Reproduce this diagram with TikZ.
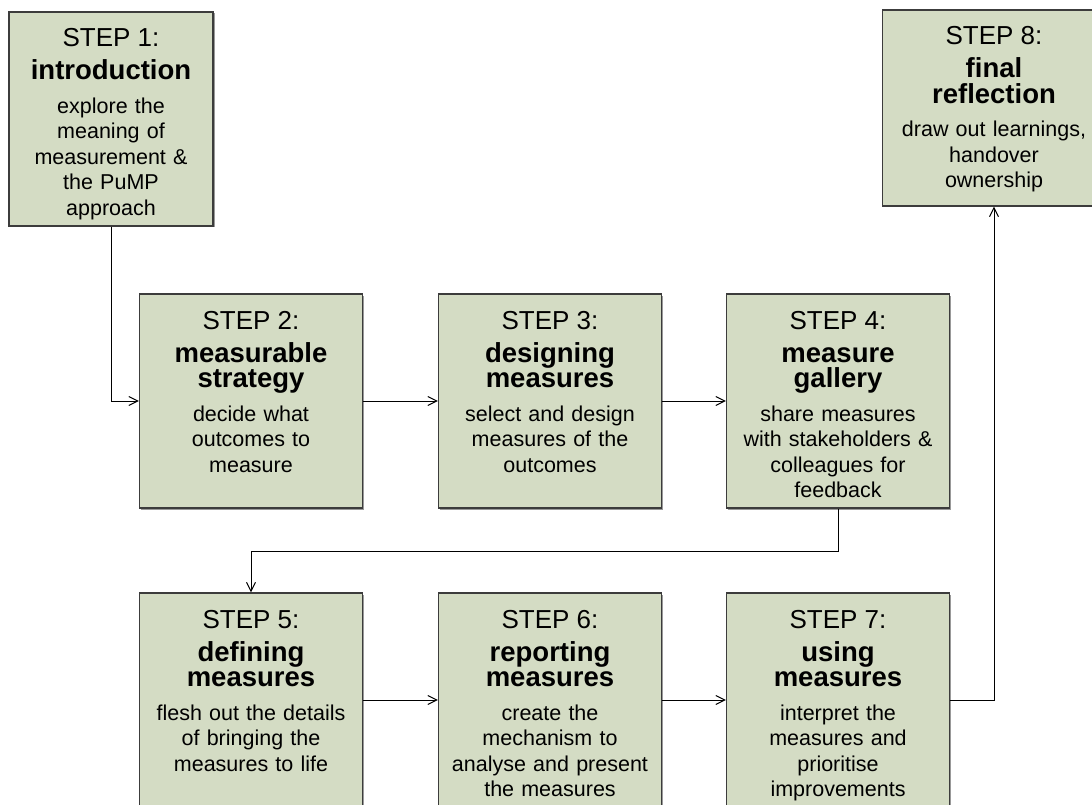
\documentclass[tikz,border=0pt]{standalone}
\usepackage{fontspec}
\setmainfont{Liberation Sans}
\usetikzlibrary{arrows.meta,shadows}
\definecolor{boxfill}{RGB}{212,220,196}
\definecolor{boxline}{RGB}{60,60,60}
\newcommand{\stepnum}[1]{{\fontsize{26}{25.5}\selectfont #1}}
\newcommand{\stepname}[1]{{\fontsize{27.5}{25.5}\selectfont\bfseries #1}}
\tikzset{
	stepbox/.style={draw=boxline, fill=boxfill, line width=1.2pt, inner sep=0pt,
		text width=223pt, text height=35pt, text depth=179pt,
		font=\fontsize{21.5}{25.5}\selectfont,
		execute at begin node={\centering\lineskiplimit=-100pt\relax},
		drop shadow={shadow xshift=1.5pt, shadow yshift=-1.5pt, fill=black!40, opacity=1}},
	flow/.style={->, line width=1pt}
}

\begin{document}
\begin{tikzpicture}[x=1pt, y=-1pt, >={Straight Barb[length=9pt,width=9pt]}]
		\useasboundingbox (0,0) rectangle (1092,805);
		\clip (0,0) rectangle (1092,805);

		\node[stepbox, text width=204pt] (s1) at (111,119) {\stepnum{STEP 1:}\\[7.5pt]\stepname{introduction}\\[8pt]explore the\\meaning of\\measurement \&\\the PuMP\\approach};

		\node[stepbox] (s2) at (251,401) {\stepnum{STEP 2:}\\[7.5pt]\stepname{measurable\\strategy}\\[8pt]decide what\\outcomes to\\measure};
		\draw[flow] (s1.south) |- (s2.west);

		\node[stepbox] (s3) at (550,401) {\stepnum{STEP 3:}\\[7.5pt]\stepname{designing\\measures}\\[8pt]select and design\\measures of the\\outcomes};
		\draw[flow] (s2) -- (s3);

		\node[stepbox] (s4) at (838,401) {\stepnum{STEP 4:}\\[7.5pt]\stepname{measure\\gallery}\\[8pt]share measures\\with stakeholders \&\\colleagues for\\feedback};
		\draw[flow] (s3) -- (s4);

		\node[stepbox] (s5) at (251,700) {\stepnum{STEP 5:}\\[7.5pt]\stepname{defining\\measures}\\[8pt]flesh out the details\\of bringing the\\measures to life};
		\draw[flow] (s4.south) -- ++(0,43) -| (s5.north);

		\node[stepbox] (s6) at (550,700) {\stepnum{STEP 6:}\\[7.5pt]\stepname{reporting\\measures}\\[8pt]create the\\mechanism to\\analyse and present\\the measures};
		\draw[flow] (s5) -- (s6);

		\node[stepbox] (s7) at (838,700) {\stepnum{STEP 7:}\\[7.5pt]\stepname{using\\measures}\\[8pt]interpret the\\measures and\\prioritise\\improvements};
		\draw[flow] (s6) -- (s7);

		\node[stepbox, text depth=161pt] (s8) at (994,108) {\stepnum{STEP 8:}\\[7.5pt]\stepname{final\\reflection}\\[8pt]draw out learnings,\\handover\\ownership};
		\draw[flow] (s7.east) -| (s8.south);
	\end{tikzpicture}
\end{document}
